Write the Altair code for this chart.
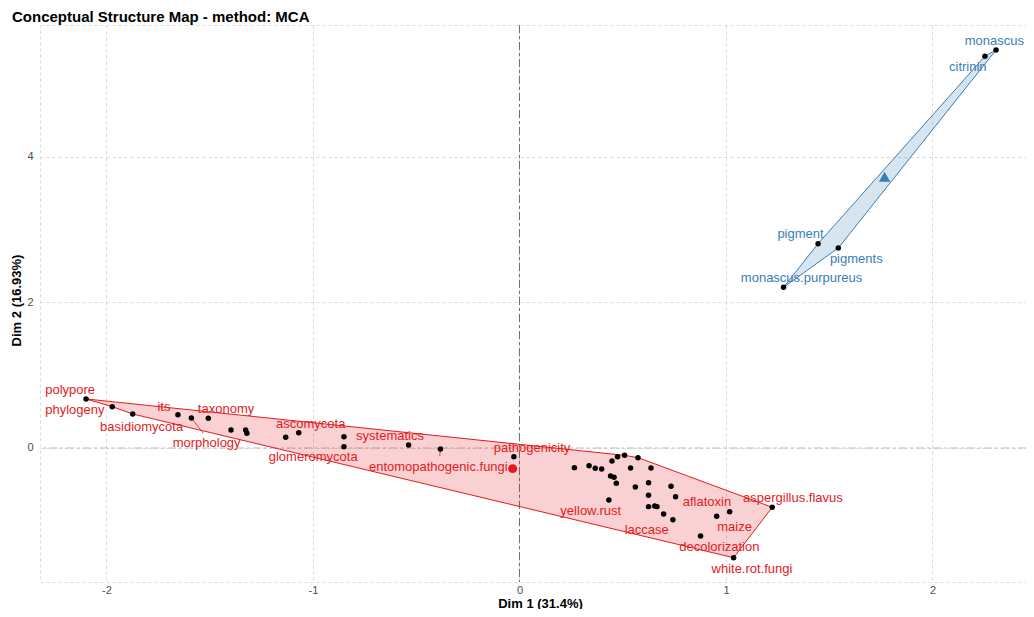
import altair as alt
import pandas as pd

RED = "#E41A1C"
BLUE = "#377EB8"
FONT = "Liberation Sans"

# ---- word coordinates (Dim 1, Dim 2) ----
red_x = [-2.099, -1.972, -1.873, -1.654, -1.589, -1.507, -1.397, -1.326, -1.320, -1.132,
         -1.069, -0.850, -0.850, -0.537, -0.383, -0.027,
         0.266, 0.337, 0.367, 0.398, 0.448, 0.475, 0.509, 0.574, 0.538, 0.637,
         0.441, 0.458, 0.469, 0.561, 0.625, 0.734, 0.756, 0.625, 0.433, 0.625,
         0.655, 0.666, 0.698, 0.743, 0.955, 1.018, 1.224, 0.877, 1.037]
red_y = [0.674, 0.568, 0.467, 0.458, 0.412, 0.408, 0.247, 0.247, 0.202, 0.147,
         0.211, 0.155, 0.018, 0.041, -0.014, -0.119,
         -0.270, -0.243, -0.279, -0.289, -0.179, -0.119, -0.101, -0.133, -0.275, -0.275,
         -0.385, -0.403, -0.486, -0.536, -0.477, -0.527, -0.669, -0.651, -0.715, -0.806,
         -0.797, -0.806, -0.907, -0.985, -0.939, -0.875, -0.815, -1.210, -1.508]
# indices of the red convex hull vertices (in drawing order)
red_hull = [0, 22, 23, 42, 44, 2, 1, 0]

blue_x = [2.308, 2.254, 1.446, 1.544, 1.279]
blue_y = [5.471, 5.384, 2.808, 2.749, 2.209]
blue_hull = [4, 2, 1, 0, 3, 4]

# cluster centroids
cent_x = [-0.033, 1.768]
cent_y = [-0.284, 3.729]

# ---- labels (text, position, cluster) ----
lab_text = ["polypore", "phylogeny", "its", "taxonomy", "basidiomycota", "morphology",
            "ascomycota", "glomeromycota", "systematics", "entomopathogenic.fungi",
            "pathogenicity", "yellow.rust", "aflatoxin", "aspergillus.flavus", "maize",
            "laccase", "decolorization", "white.rot.fungi",
            "monascus", "citrinin", "pigment", "pigments", "monascus.purpureus"]
lab_x = [-2.176, -2.153, -1.722, -1.421, -1.830, -1.515,
         -1.011, -0.999, -0.627, -0.393,
         0.061, 0.345, 0.908, 1.324, 1.042,
         0.616, 0.968, 1.126,
         2.300, 2.171, 1.361, 1.631, 1.366]
lab_y = [0.797, 0.522, 0.568, 0.536, 0.293, 0.064,
         0.330, -0.128, 0.165, -0.265,
         0.000, -0.861, -0.739, -0.687, -1.088,
         -1.127, -1.357, -1.663,
         5.599, 5.233, 2.938, 2.594, 2.340]
lab_cluster = ["1"] * 18 + ["2"] * 5

# ggrepel leader segments: (label end) -> (word point)
seg_x = [-1.531, -0.386]
seg_y = [0.202, -0.110]
seg_x2 = [-1.589, -0.383]
seg_y2 = [0.412, -0.014]

TITLE = "Conceptual Structure Map - method: MCA"
XTITLE = "Dim 1 (31.4%)"
YTITLE = "Dim 2 (16.93%)"
x_ticks = [-2, -1, 0, 1, 2]
y_ticks = [0, 2, 4]

# ---- tables ----
pts = pd.DataFrame({"x": red_x + blue_x, "y": red_y + blue_y})
red_poly = pd.DataFrame({"x": [red_x[i] for i in red_hull],
                         "y": [red_y[i] for i in red_hull],
                         "o": list(range(len(red_hull)))})
blue_poly = pd.DataFrame({"x": [blue_x[i] for i in blue_hull],
                          "y": [blue_y[i] for i in blue_hull],
                          "o": list(range(len(blue_hull)))})
labels = pd.DataFrame({"x": lab_x, "y": lab_y, "t": lab_text, "c": lab_cluster})
segs = pd.DataFrame({"x": seg_x, "y": seg_y, "x2": seg_x2, "y2": seg_y2})

W, H = 986, 557
xs = alt.Scale(domain=[-2.322, 2.453], nice=False, zero=False)
ys = alt.Scale(domain=[-1.842, 5.814], nice=False, zero=False)

X = alt.X("x:Q", scale=xs, axis=alt.Axis(
    values=x_ticks, title=XTITLE, labelExpr="'' + datum.value",
    labelPadding=2, titleX=500, titleY=25, titleAlign="center",
    titleBaseline="alphabetic"))
Y = alt.Y("y:Q", scale=ys, axis=alt.Axis(
    values=y_ticks, title=YTITLE, labelExpr="'' + datum.value",
    labelPadding=7, titleX=-23.5, titleY=275, titleAngle=270,
    titleAlign="center", titleBaseline="middle"))

zero_v = alt.Chart(pd.DataFrame({"x": [0]})).mark_rule(
    color="#6e6e6e", strokeWidth=1, strokeDash=[8, 3, 3, 3]).encode(x=X)
zero_h = alt.Chart(pd.DataFrame({"y": [0]})).mark_rule(
    color="#bdbdbd", strokeWidth=1, strokeDash=[8, 3, 3, 3]).encode(y=Y)

red_area = alt.Chart(red_poly).mark_line(
    fill=RED, fillOpacity=0.2, stroke=RED, strokeWidth=1, interpolate="linear").encode(
    x=X, y=Y, order="o:Q")
blue_area = alt.Chart(blue_poly).mark_line(
    fill=BLUE, fillOpacity=0.2, stroke=BLUE, strokeWidth=1, interpolate="linear").encode(
    x=X, y=Y, order="o:Q")

seg_layer = alt.Chart(segs).mark_rule(color=RED, strokeWidth=0.8).encode(
    x=X, y=Y, x2="x2:Q", y2="y2:Q")

points = alt.Chart(pts).mark_circle(size=30, color="black", opacity=1).encode(x=X, y=Y)

cent = pd.DataFrame({"x": cent_x, "y": cent_y, "c": ["1", "2"]})
red_c = alt.Chart(cent.iloc[[0]]).mark_point(
    shape="circle", size=80, filled=True, color=RED, opacity=1).encode(x=X, y=Y)
blue_c = alt.Chart(cent.iloc[[1]]).mark_point(
    shape="triangle-up", size=130, filled=True, color=BLUE, opacity=1).encode(x=X, y=Y)

text_layer = alt.Chart(labels).mark_text(
    font=FONT, fontSize=13, align="center", baseline="middle").encode(
    x=X, y=Y, text="t:N",
    color=alt.Color("c:N", scale=alt.Scale(domain=["1", "2"], range=[RED, BLUE]), legend=None))

title_layer = alt.Chart(pd.DataFrame({"t": [TITLE]})).mark_text(
    font=FONT, fontSize=15, fontWeight="bold", align="left", baseline="middle",
    color="black").encode(x=alt.value(-28), y=alt.value(-8), text="t:N")

chart = alt.layer(
    zero_h, zero_v, red_area, blue_area, seg_layer, points, red_c, blue_c,
    text_layer, title_layer
).properties(
    width=W, height=H,
    autosize=alt.AutoSizeParams(type="none"),
    padding={"left": 32, "top": 17, "right": 0, "bottom": 27},
).configure_view(
    stroke="#dcdcdc", strokeDash=[3, 3], strokeWidth=1
).configure_axis(
    labelFont=FONT, labelFontSize=11, labelColor="#4d4d4d",
    titleFont=FONT, titleFontSize=13, titleFontWeight="bold", titleColor="black",
    ticks=False, domain=False,
    grid=True, gridColor="#d9d9d9", gridDash=[3, 3], gridWidth=1,
)

chart.save("out.html", embed_options={"renderer": "svg", "actions": False})
